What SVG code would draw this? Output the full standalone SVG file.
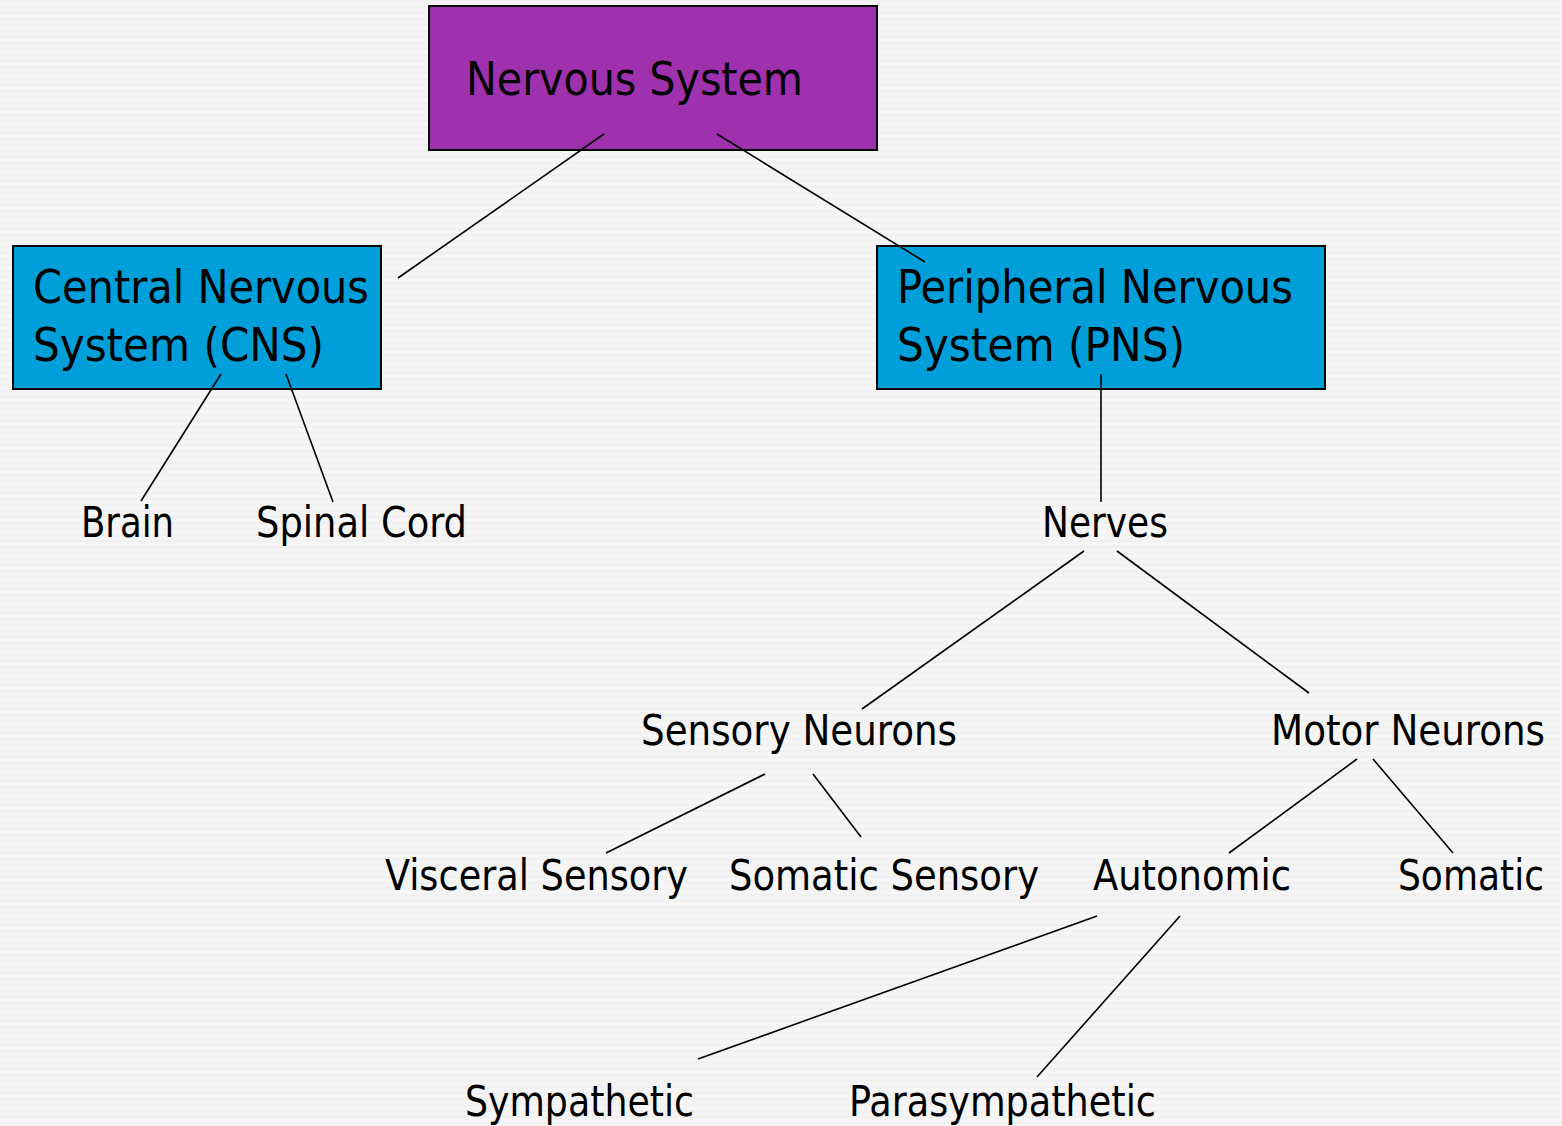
<svg xmlns="http://www.w3.org/2000/svg" width="1562" height="1126" viewBox="0 0 1562 1126">
<style>
.t{font-family:"DejaVu Sans Condensed","DejaVu Sans","Liberation Sans",sans-serif;fill:#000}
.b{font-size:47px}
.s{font-size:43px}
.box{stroke:#000;stroke-width:2}
#connectors line{stroke:#000;stroke-width:1.6}
</style>
<defs>
<pattern id="bg" width="40" height="6" patternUnits="userSpaceOnUse">
<rect width="40" height="6" fill="#f5f5f5"/>
<rect y="0" width="40" height="2" fill="#f1f1f1"/>
</pattern>
</defs>
<rect width="1562" height="1126" fill="url(#bg)"/>
<g id="nervous-system">
<rect class="box" x="429" y="6" width="448" height="144" fill="#9f31ae"/>
<text class="t b" x="466" y="95" textLength="337" lengthAdjust="spacingAndGlyphs">Nervous System</text>
</g>
<g id="cns">
<rect class="box" x="13" y="246" width="368" height="143" fill="#009fd9"/>
<text class="t b" x="33" y="303" textLength="336" lengthAdjust="spacingAndGlyphs">Central Nervous</text>
<text class="t b" x="33" y="361" textLength="291" lengthAdjust="spacingAndGlyphs">System (CNS)</text>
</g>
<g id="pns">
<rect class="box" x="877" y="246" width="448" height="143" fill="#009fd9"/>
<text class="t b" x="897" y="303" textLength="396" lengthAdjust="spacingAndGlyphs">Peripheral Nervous</text>
<text class="t b" x="897" y="361" textLength="288" lengthAdjust="spacingAndGlyphs">System (PNS)</text>
</g>
<g id="brain"><text class="t s" x="81" y="537" textLength="93" lengthAdjust="spacingAndGlyphs">Brain</text></g>
<g id="spinal-cord"><text class="t s" x="256" y="537" textLength="211" lengthAdjust="spacingAndGlyphs">Spinal Cord</text></g>
<g id="nerves"><text class="t s" x="1042" y="537" textLength="126" lengthAdjust="spacingAndGlyphs">Nerves</text></g>
<g id="sensory-neurons"><text class="t s" x="641" y="745" textLength="316" lengthAdjust="spacingAndGlyphs">Sensory Neurons</text></g>
<g id="motor-neurons"><text class="t s" x="1271" y="745" textLength="274" lengthAdjust="spacingAndGlyphs">Motor Neurons</text></g>
<g id="visceral-sensory"><text class="t s" x="385" y="890" textLength="303" lengthAdjust="spacingAndGlyphs">Visceral Sensory</text></g>
<g id="somatic-sensory"><text class="t s" x="729" y="890" textLength="310" lengthAdjust="spacingAndGlyphs">Somatic Sensory</text></g>
<g id="autonomic"><text class="t s" x="1093" y="890" textLength="198" lengthAdjust="spacingAndGlyphs">Autonomic</text></g>
<g id="somatic"><text class="t s" x="1398" y="890" textLength="146" lengthAdjust="spacingAndGlyphs">Somatic</text></g>
<g id="sympathetic"><text class="t s" x="465" y="1116" textLength="229" lengthAdjust="spacingAndGlyphs">Sympathetic</text></g>
<g id="parasympathetic"><text class="t s" x="849" y="1116" textLength="307" lengthAdjust="spacingAndGlyphs">Parasympathetic</text></g>
<g id="connectors">
<line x1="604" y1="134" x2="398" y2="278"/>
<line x1="717" y1="134" x2="925" y2="262"/>
<line x1="221" y1="374" x2="141" y2="501"/>
<line x1="286" y1="374" x2="333" y2="502"/>
<line x1="1101" y1="374" x2="1101" y2="502"/>
<line x1="1084" y1="551" x2="862" y2="709"/>
<line x1="1117" y1="551" x2="1309" y2="693"/>
<line x1="765" y1="774" x2="606" y2="853"/>
<line x1="813" y1="774" x2="861" y2="837"/>
<line x1="1357" y1="759" x2="1229" y2="853"/>
<line x1="1373" y1="759" x2="1453" y2="853"/>
<line x1="1097" y1="916" x2="698" y2="1059"/>
<line x1="1180" y1="916" x2="1037" y2="1077"/>
</g>
</svg>
